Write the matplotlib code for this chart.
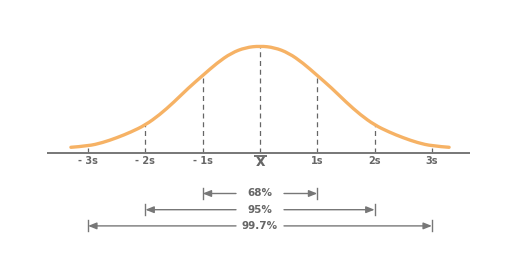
#------------------------------------------------------------------------------
# IMPORTS
#------------------------------------------------------------------------------
import numpy as np
import matplotlib
matplotlib.use("Agg")
from matplotlib import pyplot as plt
from matplotlib.path import Path
from matplotlib.patches import PathPatch

#------------------------------------------------------------------------------
# DATA
#------------------------------------------------------------------------------
# curve (units of s, height in px above the baseline)
half_u = [-3.3, -3.0, -2.75, -2.5, -2.25, -2.0, -1.75, -1.5, -1.25,
          -1.0, -0.75, -0.5, -0.25, 0.0]
half_h = [5.7, 7.0, 10.3, 15.2, 21.0, 28.0, 38.3, 51.0, 65.0,
          77.5, 90.0, 100.0, 105.5, 107.0]

sigma_pos = [-3, -2, -1, 0, 1, 2, 3]
tick_labels = ["- 3s", "- 2s", "- 1s", "x", "1s", "2s", "3s"]

coverage = ["68%", "95%", "99.7%"]
spans = [1, 2, 3]

#------------------------------------------------------------------------------
# FUNCTIONS
#------------------------------------------------------------------------------
def smooth_path(xs, ys):
    """ Quadratic bezier path using the read points as control points. """
    pts = np.column_stack([xs, ys])
    verts = [pts[0]]
    codes = [Path.MOVETO]
    for i in range(1, len(pts) - 1):
        mid = (pts[i] + pts[i + 1]) / 2 if i < len(pts) - 2 else pts[i + 1]
        verts += [pts[i], mid]
        codes += [Path.CURVE3, Path.CURVE3]
    return Path(verts, codes)

#------------------------------------------------------------------------------
# MAIN
#------------------------------------------------------------------------------
def main():
    curve_u = np.array(half_u + [-u for u in half_u[-2::-1]])
    curve_h = np.array(half_h + half_h[-2::-1])

    px = 57.3          # pixels per s
    grey = "#777777"
    text_grey = "#666666"

    fig = plt.figure(figsize=(5.24, 2.63), dpi=100)
    ax = fig.add_axes([0, 0, 1, 1])
    ax.set_xlim(-260 / px, (524 - 260) / px)
    ax.set_ylim(-110, 153)
    ax.axis("off")

    # baseline
    ax.plot([-213 / px, 210 / px], [0, 0], color=grey, lw=1.4,
            solid_capstyle="butt")

    # dashed drop lines
    for u in sigma_pos:
        top = np.interp(u, curve_u, curve_h)
        ax.plot([u, u], [0, top], color="#666666", lw=0.9,
                dashes=(4, 3), zorder=1)

    # bell curve
    ax.add_patch(PathPatch(smooth_path(curve_u, curve_h), fill=False,
                           edgecolor="#F6B265", lw=2.4, capstyle="round",
                           zorder=3))

    # tick labels
    for u, lab in zip(sigma_pos, tick_labels):
        if lab == "x":
            ax.text(u, -9, "x", ha="center", va="center", fontsize=10.5,
                    fontweight="bold", color=text_grey)
            ax.plot([u - 6.5 / px, u + 6.5 / px], [-3, -3], color=text_grey,
                    lw=1.3, solid_capstyle="butt")
        else:
            ax.text(u, -8, lab, ha="center", va="center", fontsize=7,
                    fontweight="bold", color=text_grey)

    # coverage arrows
    gap = 24 / px
    for i, (lab, s) in enumerate(zip(coverage, spans)):
        y = -40.5 - 16.2 * i
        for sign in (-1, 1):
            ax.annotate("", xy=(sign * s, y), xytext=(sign * gap, y),
                        arrowprops=dict(arrowstyle="-|>,head_length=0.5,"
                                        "head_width=0.2",
                                        color=grey, lw=1.0,
                                        shrinkA=0, shrinkB=0))
            ax.plot([sign * s, sign * s], [y - 5.5, y + 5.5],
                    color=grey, lw=1.0)
        ax.text(0, y, lab, ha="center", va="center", fontsize=7.5,
                fontweight="bold", color=text_grey)

    fig.savefig("out.png", dpi=100)

#------------------------------------------------------------------------------
if __name__ == '__main__':
    main()
